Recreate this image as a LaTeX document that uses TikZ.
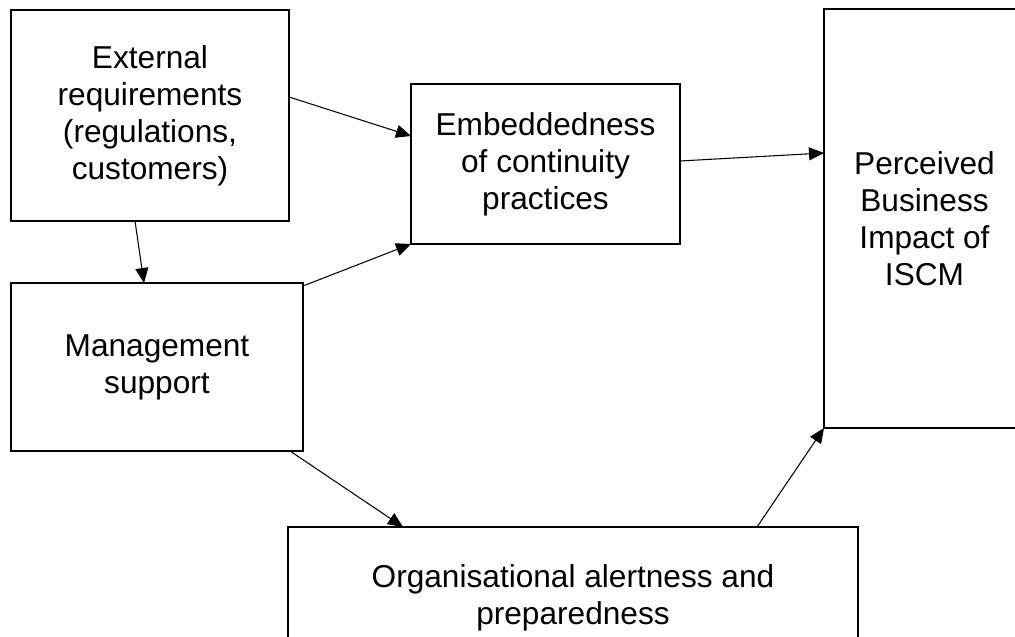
\documentclass[tikz,border=0pt]{standalone}
\usepackage{fontspec}
\setmainfont{Liberation Sans}
\usepackage{tikz}
\usetikzlibrary{arrows.meta, positioning}

\begin{document}
\begin{tikzpicture}[
    box/.style={draw, line width=1.2pt, outer sep=0pt, inner sep=0pt, align=center, font=\fontsize{18}{21}\selectfont},
    arrow/.style={-{Triangle[length=0.3cm, width=0.26cm]}, line width=0.6pt},
    node distance=1.2cm
]
    \clip (0,0) rectangle (20.3,-12.74);

    % External requirements
    \node[box, minimum width=5.56cm, minimum height=4.22cm] (ext) at (3.0,-2.31) {External\\requirements\\(regulations,\\customers)};

    % Management support
    \node[box, minimum width=5.84cm, minimum height=3.36cm, below=1.24cm of ext.south west, anchor=north west] (mgmt) {Management\\support};

    % Embeddedness
    \node[box, minimum width=5.38cm, minimum height=3.2cm, below right=1.48cm and 2.44cm of ext.north east, anchor=north west] (embed) {Embeddedness\\of continuity\\practices};

    % Perceived business impact
    \node[box, minimum width=4.02cm, minimum height=8.38cm, right=10.7cm of ext.north east, anchor=north west, yshift=0.02cm] (impact) {Perceived\\Business\\Impact of\\ISCM};

    % Organisational alertness
    \node[box, minimum width=11.4cm, minimum height=2.85cm, below=1.52cm of mgmt.south east, anchor=north west, xshift=-0.3cm] (alert) {Organisational alertness and\\preparedness};

    % Arrows
    \draw[arrow] ([yshift=0.37cm]ext.east) -- ([yshift=0.56cm]embed.west);
    \draw[arrow] ([xshift=-0.3cm]ext.south) -- ([xshift=-0.26cm]mgmt.north);
    \draw[arrow] ([yshift=-0.06cm]mgmt.north east) -- (embed.south west);
    \draw[arrow] ([yshift=0.06cm]embed.east) -- ([yshift=1.31cm]impact.west);
    \draw[arrow] ([xshift=-0.26cm]mgmt.south east) -- ([xshift=2.3cm]alert.north west);
    \draw[arrow] ([xshift=-2.02cm]alert.north east) -- (impact.south west);

\end{tikzpicture}
\end{document}
